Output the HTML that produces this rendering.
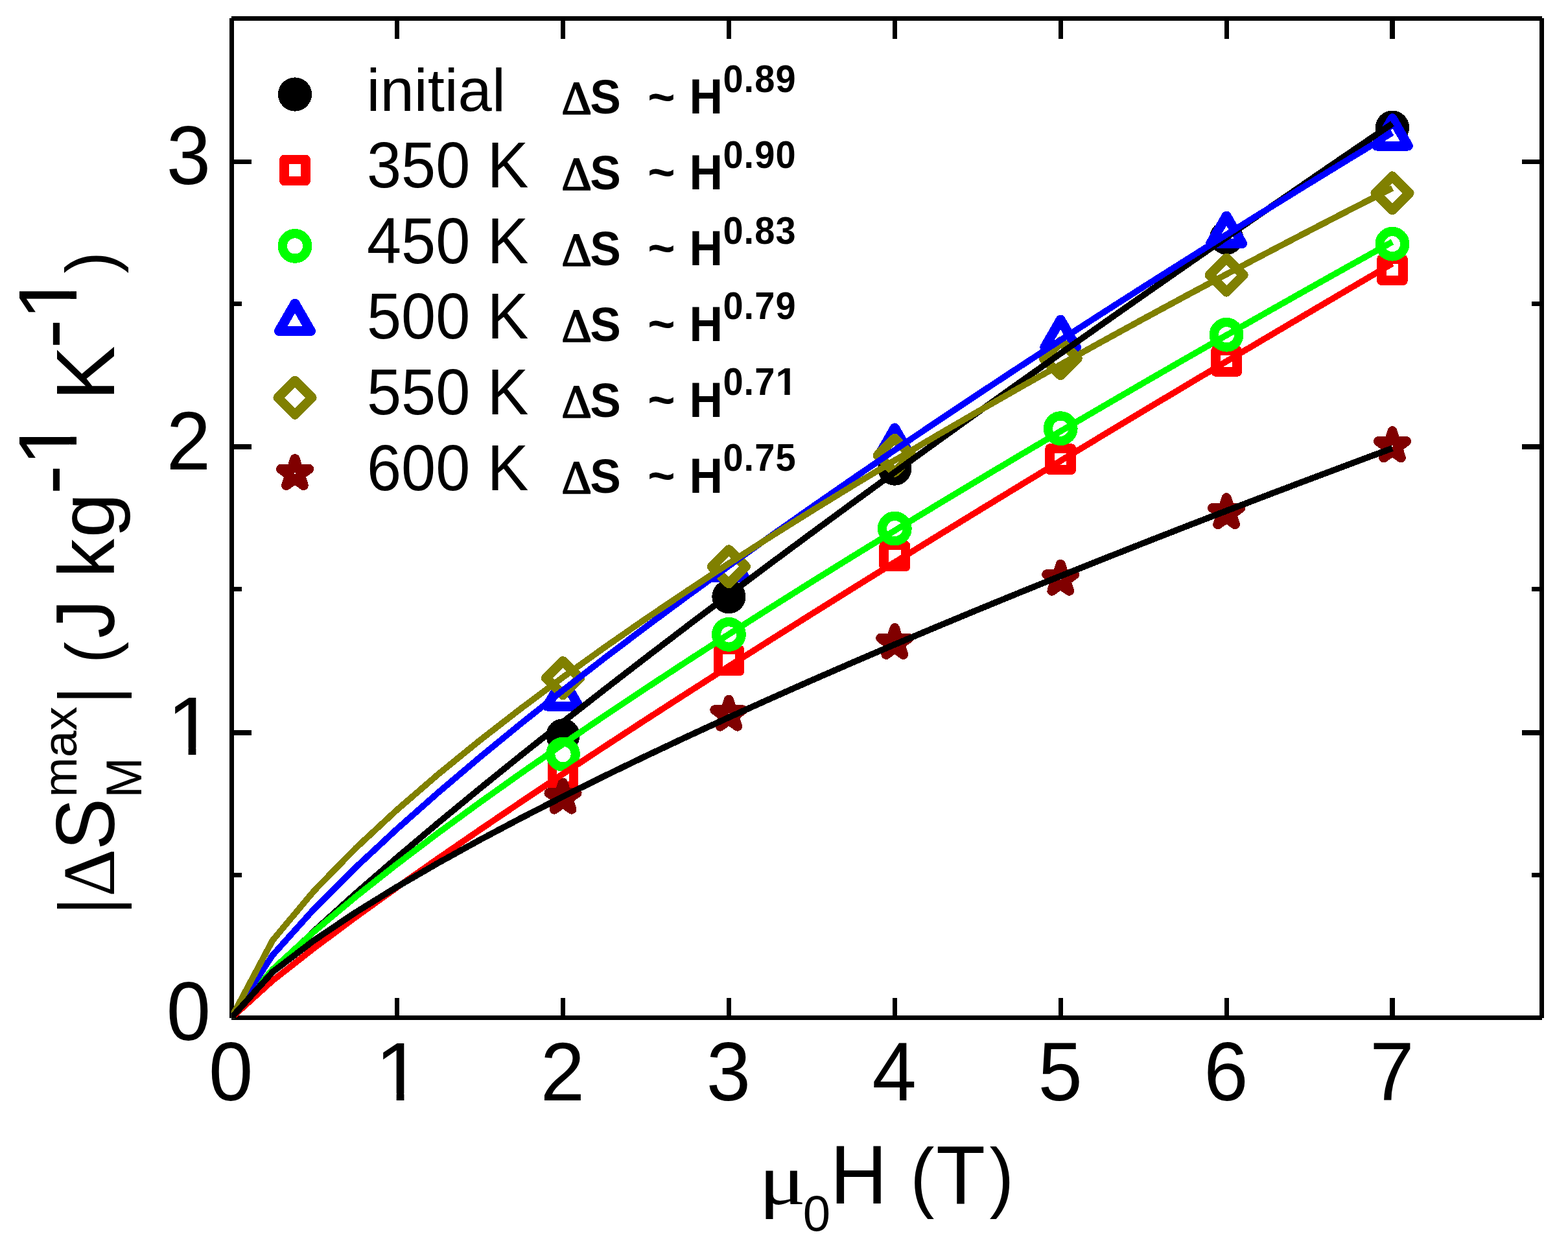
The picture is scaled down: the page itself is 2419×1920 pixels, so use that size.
<!DOCTYPE html>
<html lang="en">
<head>
<meta charset="utf-8">
<title>|&#916;S_M^max| versus &#956;0H</title>
<style>
html,body{margin:0;padding:0;background:#fff;}
body{width:2419px;height:1920px;overflow:hidden;}
svg{display:block;}
text{white-space:pre;font-kerning:none;font-variant-ligatures:none;}
</style>
</head>
<body>
<svg xmlns="http://www.w3.org/2000/svg" width="2419" height="1920" viewBox="0 0 2419 1920">
<rect width="2419" height="1920" fill="#fff"/>
<defs><clipPath id="plotclip"><rect x="356.6" y="28" width="2022.4" height="1542.6"/></clipPath><clipPath id="c1b0"><rect x="-5.6" y="-67.2" width="67.2" height="60.83"/><rect x="13.02" y="-6.81" width="7.78" height="7.11"/></clipPath><clipPath id="c1r1"><rect x="-12.28" y="-147.36" width="147.36" height="136.75"/><rect x="30.83" y="-11.57" width="10.95" height="11.87"/></clipPath><clipPath id="c1r2"><rect x="-12.28" y="-147.36" width="147.36" height="136.75"/><rect x="30.83" y="-11.57" width="10.95" height="11.87"/></clipPath><clipPath id="c1r3"><rect x="-12.28" y="-147.36" width="147.36" height="136.75"/><rect x="30.83" y="-11.57" width="10.95" height="11.87"/></clipPath><clipPath id="c1r4"><rect x="-12.28" y="-147.36" width="147.36" height="136.75"/><rect x="30.83" y="-11.57" width="10.95" height="11.87"/></clipPath></defs>
<g id="axes" fill="#000" shape-rendering="crispEdges">
<rect x="357" y="25" width="2022" height="7"/>
<rect x="357" y="1566" width="2022" height="7"/>
<rect x="354" y="28" width="7" height="1542"/>
<rect x="2375" y="28" width="7" height="1542"/>
<rect x="609" y="1539" width="7" height="28"/>
<rect x="609" y="31" width="7" height="29"/>
<rect x="865" y="1539" width="7" height="28"/>
<rect x="865" y="31" width="7" height="29"/>
<rect x="1121" y="1539" width="7" height="28"/>
<rect x="1121" y="31" width="7" height="29"/>
<rect x="1377" y="1539" width="7" height="28"/>
<rect x="1377" y="31" width="7" height="29"/>
<rect x="1633" y="1539" width="7" height="28"/>
<rect x="1633" y="31" width="7" height="29"/>
<rect x="1889" y="1539" width="7" height="28"/>
<rect x="1889" y="31" width="7" height="29"/>
<rect x="2144" y="1539" width="8" height="28"/>
<rect x="2144" y="31" width="8" height="29"/>
<rect x="360" y="1126" width="28" height="8"/>
<rect x="2348" y="1126" width="28" height="8"/>
<rect x="360" y="685" width="28" height="8"/>
<rect x="2348" y="685" width="28" height="8"/>
<rect x="360" y="246" width="28" height="7"/>
<rect x="2348" y="246" width="28" height="7"/>
<rect x="360" y="1346" width="13" height="7"/>
<rect x="2363" y="1346" width="13" height="7"/>
<rect x="360" y="905" width="13" height="7"/>
<rect x="2363" y="905" width="13" height="7"/>
<rect x="360" y="465" width="13" height="7"/>
<rect x="2363" y="465" width="13" height="7"/>
</g>
<g id="markers" shape-rendering="crispEdges">
<circle cx="868.5" cy="1134.33" r="26.1" fill="#000000"/>
<circle cx="1124.4" cy="920.21" r="26.1" fill="#000000"/>
<circle cx="1380.3" cy="722.61" r="26.1" fill="#000000"/>
<circle cx="1892.1" cy="366.68" r="26.1" fill="#000000"/>
<circle cx="2148" cy="196.6" r="26.1" fill="#000000"/>
<rect x="851.95" y="1179.28" width="33.1" height="33.1" fill="#fff" stroke="#ff0000" stroke-width="14.6" stroke-linejoin="round"/>
<rect x="1107.85" y="1001.85" width="33.1" height="33.1" fill="#fff" stroke="#ff0000" stroke-width="14.6" stroke-linejoin="round"/>
<rect x="1363.75" y="841.05" width="33.1" height="33.1" fill="#fff" stroke="#ff0000" stroke-width="14.6" stroke-linejoin="round"/>
<rect x="1619.65" y="691.57" width="33.1" height="33.1" fill="#fff" stroke="#ff0000" stroke-width="14.6" stroke-linejoin="round"/>
<rect x="1875.55" y="540.42" width="33.1" height="33.1" fill="#fff" stroke="#ff0000" stroke-width="14.6" stroke-linejoin="round"/>
<rect x="2131.45" y="399.53" width="33.1" height="33.1" fill="#fff" stroke="#ff0000" stroke-width="14.6" stroke-linejoin="round"/>
<circle cx="868.5" cy="1163.12" r="19.25" fill="#fff" stroke="#00ff00" stroke-width="14.3"/>
<circle cx="1124.4" cy="978.42" r="19.25" fill="#fff" stroke="#00ff00" stroke-width="14.3"/>
<circle cx="1380.3" cy="815.07" r="19.25" fill="#fff" stroke="#00ff00" stroke-width="14.3"/>
<circle cx="1636.2" cy="660.66" r="19.25" fill="#fff" stroke="#00ff00" stroke-width="14.3"/>
<circle cx="1892.1" cy="516.25" r="19.25" fill="#fff" stroke="#00ff00" stroke-width="14.3"/>
<circle cx="2148" cy="376.19" r="19.25" fill="#fff" stroke="#00ff00" stroke-width="14.3"/>
<polygon points="868.5,1046.73 892.92,1089.03 844.08,1089.03" fill="#fff" stroke="#0000ff" stroke-width="15" stroke-linejoin="round"/>
<polygon points="1124.4,847.98 1148.82,890.28 1099.98,890.28" fill="#fff" stroke="#0000ff" stroke-width="15" stroke-linejoin="round"/>
<polygon points="1380.3,659.98 1404.72,702.28 1355.88,702.28" fill="#fff" stroke="#0000ff" stroke-width="15" stroke-linejoin="round"/>
<polygon points="1636.2,493.15 1660.62,535.45 1611.78,535.45" fill="#fff" stroke="#0000ff" stroke-width="15" stroke-linejoin="round"/>
<polygon points="1892.1,333.06 1916.52,375.36 1867.68,375.36" fill="#fff" stroke="#0000ff" stroke-width="15" stroke-linejoin="round"/>
<polygon points="2148,182.71 2172.42,225.01 2123.58,225.01" fill="#fff" stroke="#0000ff" stroke-width="15" stroke-linejoin="round"/>
<polygon points="868.5,1019.54 894.7,1045.74 868.5,1071.94 842.3,1045.74" fill="#fff" stroke="#808000" stroke-width="14.8" stroke-linejoin="round"/>
<polygon points="1124.4,847.56 1150.6,873.76 1124.4,899.96 1098.2,873.76" fill="#fff" stroke="#808000" stroke-width="14.8" stroke-linejoin="round"/>
<polygon points="1380.3,676.07 1406.5,702.27 1380.3,728.47 1354.1,702.27" fill="#fff" stroke="#808000" stroke-width="14.8" stroke-linejoin="round"/>
<polygon points="1636.2,526.5 1662.4,552.7 1636.2,578.9 1610,552.7" fill="#fff" stroke="#808000" stroke-width="14.8" stroke-linejoin="round"/>
<polygon points="1892.1,397.98 1918.3,424.18 1892.1,450.38 1865.9,424.18" fill="#fff" stroke="#808000" stroke-width="14.8" stroke-linejoin="round"/>
<polygon points="2148,271.62 2174.2,297.82 2148,324.02 2121.8,297.82" fill="#fff" stroke="#808000" stroke-width="14.8" stroke-linejoin="round"/>
<polygon points="868.5,1207.04 873.61,1222.7 890.09,1222.72 876.77,1232.42 881.84,1248.1 868.5,1238.44 855.16,1248.1 860.23,1232.42 846.91,1222.72 863.39,1222.7" fill="#fff" stroke="#800000" stroke-width="15" stroke-linejoin="round"/>
<polygon points="1124.4,1079.09 1129.51,1094.75 1145.99,1094.77 1132.67,1104.48 1137.74,1120.15 1124.4,1110.49 1111.06,1120.15 1116.13,1104.48 1102.81,1094.77 1119.29,1094.75" fill="#fff" stroke="#800000" stroke-width="15" stroke-linejoin="round"/>
<polygon points="1380.3,968.49 1385.41,984.15 1401.89,984.17 1388.57,993.88 1393.64,1009.55 1380.3,999.89 1366.96,1009.55 1372.03,993.88 1358.71,984.17 1375.19,984.15" fill="#fff" stroke="#800000" stroke-width="15" stroke-linejoin="round"/>
<polygon points="1636.2,870.17 1641.31,885.83 1657.79,885.86 1644.47,895.56 1649.54,911.24 1636.2,901.57 1622.86,911.24 1627.93,895.56 1614.61,885.86 1631.09,885.83" fill="#fff" stroke="#800000" stroke-width="15" stroke-linejoin="round"/>
<polygon points="1892.1,767.72 1897.21,783.38 1913.69,783.4 1900.37,793.1 1905.44,808.78 1892.1,799.12 1878.76,808.78 1883.83,793.1 1870.51,783.4 1886.99,783.38" fill="#fff" stroke="#800000" stroke-width="15" stroke-linejoin="round"/>
<polygon points="2148,664.82 2153.11,680.48 2169.59,680.5 2156.27,690.21 2161.34,705.88 2148,696.22 2134.66,705.88 2139.73,690.21 2126.41,680.5 2142.89,680.48" fill="#fff" stroke="#800000" stroke-width="15" stroke-linejoin="round"/>
</g>
<g id="fits" clip-path="url(#plotclip)" fill="none" stroke-width="9.6" stroke-linejoin="miter" stroke-linecap="butt" shape-rendering="crispEdges">
<polyline points="356.7,1570 420.68,1497.16 484.65,1435.7 548.62,1377.91 612.6,1322.39 676.58,1268.49 740.55,1215.85 804.52,1164.23 868.5,1113.48 932.47,1063.47 996.45,1014.1 1060.42,965.32 1124.4,917.05 1188.38,869.25 1252.35,821.89 1316.33,774.92 1380.3,728.31 1444.28,682.05 1508.25,636.11 1572.23,590.46 1636.2,545.1 1700.18,500 1764.15,455.15 1828.12,410.54 1892.1,366.16 1956.08,322 2020.05,278.04 2084.03,234.28 2148,190.71" stroke="#000000"/>
<polyline points="356.7,1570 420.68,1512.17 484.65,1462.02 548.62,1414.41 612.6,1368.39 676.58,1323.5 740.55,1279.51 804.52,1236.23 868.5,1193.57 932.47,1151.44 996.45,1109.76 1060.42,1068.51 1124.4,1027.62 1188.38,987.07 1252.35,946.82 1316.33,906.86 1380.3,867.17 1444.28,827.72 1508.25,788.5 1572.23,749.5 1636.2,710.69 1700.18,672.09 1764.15,633.66 1828.12,595.4 1892.1,557.32 1956.08,519.38 2020.05,481.6 2084.03,443.96 2148,406.46" stroke="#ff0000"/>
<polyline points="356.7,1570 420.68,1494.97 484.65,1436.52 548.62,1383.02 612.6,1332.51 676.58,1284.11 740.55,1237.33 804.52,1191.86 868.5,1147.47 932.47,1104.01 996.45,1061.36 1060.42,1019.43 1124.4,978.13 1188.38,937.41 1252.35,897.22 1316.33,857.51 1380.3,818.25 1444.28,779.4 1508.25,740.93 1572.23,702.82 1636.2,665.05 1700.18,627.59 1764.15,590.44 1828.12,553.57 1892.1,516.97 1956.08,480.63 2020.05,444.53 2084.03,408.66 2148,373.02" stroke="#00ff00"/>
<polyline points="356.7,1570 420.68,1472.84 484.65,1401.65 548.62,1337.79 612.6,1278.28 676.58,1221.8 740.55,1167.63 804.52,1115.3 868.5,1064.51 932.47,1015.01 996.45,966.64 1060.42,919.27 1124.4,872.78 1188.38,827.08 1252.35,782.11 1316.33,737.79 1380.3,694.09 1444.28,650.94 1508.25,608.32 1572.23,566.19 1636.2,524.51 1700.18,483.26 1764.15,442.42 1828.12,401.95 1892.1,361.86 1956.08,322.1 2020.05,282.67 2084.03,243.56 2148,204.74" stroke="#0000ff"/>
<polyline points="356.7,1570 420.68,1450.02 484.65,1373.69 548.62,1308.16 612.6,1248.79 676.58,1193.61 740.55,1141.56 804.52,1091.98 868.5,1044.41 932.47,998.54 996.45,954.13 1060.42,910.98 1124.4,868.96 1188.38,827.94 1252.35,787.83 1316.33,748.54 1380.3,710 1444.28,672.15 1508.25,634.95 1572.23,598.33 1636.2,562.27 1700.18,526.73 1764.15,491.68 1828.12,457.08 1892.1,422.92 1956.08,389.17 2020.05,355.81 2084.03,322.81 2148,290.17" stroke="#808000"/>
<polyline points="356.7,1570 420.68,1498.88 484.65,1450.02 548.62,1407.09 612.6,1367.6 676.58,1330.48 740.55,1295.16 804.52,1261.26 868.5,1228.54 932.47,1196.8 996.45,1165.92 1060.42,1135.79 1124.4,1106.33 1188.38,1077.47 1252.35,1049.14 1316.33,1021.31 1380.3,993.93 1444.28,966.97 1508.25,940.4 1572.23,914.18 1636.2,888.3 1700.18,862.74 1764.15,837.47 1828.12,812.49 1892.1,787.77 1956.08,763.3 2020.05,739.07 2084.03,715.07 2148,691.29" stroke="#000000"/>
</g>
<g id="legend-markers" shape-rendering="crispEdges">
<circle cx="455" cy="145.5" r="26.1" fill="#000000"/>
<rect x="438.45" y="245.9" width="33.1" height="33.1" fill="#fff" stroke="#ff0000" stroke-width="14.6" stroke-linejoin="round"/>
<circle cx="455" cy="379.4" r="19.25" fill="#fff" stroke="#00ff00" stroke-width="14.3"/>
<polygon points="455,468.15 479.42,510.45 430.58,510.45" fill="#fff" stroke="#0000ff" stroke-width="15" stroke-linejoin="round"/>
<polygon points="455,587.1 481.2,613.3 455,639.5 428.8,613.3" fill="#fff" stroke="#808000" stroke-width="14.8" stroke-linejoin="round"/>
<polygon points="455,707.55 460.11,723.21 476.59,723.24 463.27,732.94 468.34,748.61 455,738.95 441.66,748.61 446.73,732.94 433.41,723.24 449.89,723.21" fill="#fff" stroke="#800000" stroke-width="15" stroke-linejoin="round"/>
</g>
<g id="legend-text" fill="#000" font-family='"Liberation Sans", Arial, Helvetica, sans-serif'>
<text transform="translate(565.6 171) scale(1 0.995)" font-size="94">initial</text>
<text transform="translate(866.46 175.1) scale(1.0273 1.0214)" font-size="70" font-family='"Liberation Serif", "DejaVu Serif", serif' stroke="#000" stroke-width="2" stroke-linejoin="miter">Δ</text>
<text transform="translate(910.3 174.9) scale(0.985 1.035)" font-size="72.4" font-weight="bold">S</text>
<text transform="translate(999.2 173.5)" font-size="72.4" font-weight="bold">~</text>
<text transform="translate(1063.6 174.9) scale(0.985 1.04)" font-size="72.4" font-weight="bold">H</text>
<text transform="translate(1115.4 141.6) scale(1 1.07)" font-size="56" font-weight="bold">0</text>
<text transform="translate(1147.59 141.6) scale(1 1.07)" font-size="56" font-weight="bold">.</text>
<text transform="translate(1164.2 141.6) scale(1 1.07)" font-size="56" font-weight="bold">8</text>
<text transform="translate(1196.4 141.6) scale(1 1.07)" font-size="56" font-weight="bold">9</text>
<text transform="translate(565.9 288.55) scale(0.99 1.04)" font-size="96.5">350 K</text>
<text transform="translate(866.46 292.05) scale(1.0273 1.0214)" font-size="70" font-family='"Liberation Serif", "DejaVu Serif", serif' stroke="#000" stroke-width="2" stroke-linejoin="miter">Δ</text>
<text transform="translate(910.3 291.85) scale(0.985 1.035)" font-size="72.4" font-weight="bold">S</text>
<text transform="translate(999.2 290.45)" font-size="72.4" font-weight="bold">~</text>
<text transform="translate(1063.6 291.85) scale(0.985 1.04)" font-size="72.4" font-weight="bold">H</text>
<text transform="translate(1115.4 258.55) scale(1 1.07)" font-size="56" font-weight="bold">0</text>
<text transform="translate(1147.59 258.55) scale(1 1.07)" font-size="56" font-weight="bold">.</text>
<text transform="translate(1164.2 258.55) scale(1 1.07)" font-size="56" font-weight="bold">9</text>
<text transform="translate(1196.4 258.55) scale(1 1.07)" font-size="56" font-weight="bold">0</text>
<text transform="translate(565.9 405.5) scale(0.99 1.04)" font-size="96.5">450 K</text>
<text transform="translate(866.46 409) scale(1.0273 1.0214)" font-size="70" font-family='"Liberation Serif", "DejaVu Serif", serif' stroke="#000" stroke-width="2" stroke-linejoin="miter">Δ</text>
<text transform="translate(910.3 408.8) scale(0.985 1.035)" font-size="72.4" font-weight="bold">S</text>
<text transform="translate(999.2 407.4)" font-size="72.4" font-weight="bold">~</text>
<text transform="translate(1063.6 408.8) scale(0.985 1.04)" font-size="72.4" font-weight="bold">H</text>
<text transform="translate(1115.4 375.5) scale(1 1.07)" font-size="56" font-weight="bold">0</text>
<text transform="translate(1147.59 375.5) scale(1 1.07)" font-size="56" font-weight="bold">.</text>
<text transform="translate(1164.2 375.5) scale(1 1.07)" font-size="56" font-weight="bold">8</text>
<text transform="translate(1196.4 375.5) scale(1 1.07)" font-size="56" font-weight="bold">3</text>
<text transform="translate(565.9 522.45) scale(0.99 1.04)" font-size="96.5">500 K</text>
<text transform="translate(866.46 525.95) scale(1.0273 1.0214)" font-size="70" font-family='"Liberation Serif", "DejaVu Serif", serif' stroke="#000" stroke-width="2" stroke-linejoin="miter">Δ</text>
<text transform="translate(910.3 525.75) scale(0.985 1.035)" font-size="72.4" font-weight="bold">S</text>
<text transform="translate(999.2 524.35)" font-size="72.4" font-weight="bold">~</text>
<text transform="translate(1063.6 525.75) scale(0.985 1.04)" font-size="72.4" font-weight="bold">H</text>
<text transform="translate(1115.4 492.45) scale(1 1.07)" font-size="56" font-weight="bold">0</text>
<text transform="translate(1147.59 492.45) scale(1 1.07)" font-size="56" font-weight="bold">.</text>
<text transform="translate(1164.2 492.45) scale(1 1.07)" font-size="56" font-weight="bold">7</text>
<text transform="translate(1196.4 492.45) scale(1 1.07)" font-size="56" font-weight="bold">9</text>
<text transform="translate(565.9 639.4) scale(0.99 1.04)" font-size="96.5">550 K</text>
<text transform="translate(866.46 642.9) scale(1.0273 1.0214)" font-size="70" font-family='"Liberation Serif", "DejaVu Serif", serif' stroke="#000" stroke-width="2" stroke-linejoin="miter">Δ</text>
<text transform="translate(910.3 642.7) scale(0.985 1.035)" font-size="72.4" font-weight="bold">S</text>
<text transform="translate(999.2 641.3)" font-size="72.4" font-weight="bold">~</text>
<text transform="translate(1063.6 642.7) scale(0.985 1.04)" font-size="72.4" font-weight="bold">H</text>
<text transform="translate(1115.4 609.4) scale(1 1.07)" font-size="56" font-weight="bold">0</text>
<text transform="translate(1147.59 609.4) scale(1 1.07)" font-size="56" font-weight="bold">.</text>
<text transform="translate(1164.2 609.4) scale(1 1.07)" font-size="56" font-weight="bold">7</text>
<text transform="translate(1196.42 609.4) scale(1.0662 1.07)" font-size="56" font-weight="bold" clip-path="url(#c1b0)">1</text>
<text transform="translate(565.9 756.35) scale(0.99 1.04)" font-size="96.5">600 K</text>
<text transform="translate(866.46 759.85) scale(1.0273 1.0214)" font-size="70" font-family='"Liberation Serif", "DejaVu Serif", serif' stroke="#000" stroke-width="2" stroke-linejoin="miter">Δ</text>
<text transform="translate(910.3 759.65) scale(0.985 1.035)" font-size="72.4" font-weight="bold">S</text>
<text transform="translate(999.2 758.25)" font-size="72.4" font-weight="bold">~</text>
<text transform="translate(1063.6 759.65) scale(0.985 1.04)" font-size="72.4" font-weight="bold">H</text>
<text transform="translate(1115.4 726.35) scale(1 1.07)" font-size="56" font-weight="bold">0</text>
<text transform="translate(1147.59 726.35) scale(1 1.07)" font-size="56" font-weight="bold">.</text>
<text transform="translate(1164.2 726.35) scale(1 1.07)" font-size="56" font-weight="bold">7</text>
<text transform="translate(1196.4 726.35) scale(1 1.07)" font-size="56" font-weight="bold">5</text>
</g>
<g id="ticklabels" fill="#000" font-family='"Liberation Sans", Arial, Helvetica, sans-serif'>
<text transform="translate(321.95 1697.1) scale(1 1.04)" font-size="122.8">0</text>
<text transform="translate(578.54 1697.1) scale(1.0741 1.04)" font-size="122.8" clip-path="url(#c1r1)">1</text>
<text transform="translate(833.75 1697.1) scale(1 1.04)" font-size="122.8">2</text>
<text transform="translate(1089.65 1697.1) scale(1 1.04)" font-size="122.8">3</text>
<text transform="translate(1345.55 1697.1) scale(1 1.04)" font-size="122.8">4</text>
<text transform="translate(1601.45 1697.1) scale(1 1.04)" font-size="122.8">5</text>
<text transform="translate(1857.35 1697.1) scale(1 1.04)" font-size="122.8">6</text>
<text transform="translate(2113.25 1697.1) scale(1 1.04)" font-size="122.8">7</text>
<text transform="translate(256.8 1604.4) scale(1 1.04)" font-size="122.8">0</text>
<text transform="translate(257.49 1164.2) scale(1.0741 1.04)" font-size="122.8" clip-path="url(#c1r2)">1</text>
<text transform="translate(256.8 724) scale(1 1.04)" font-size="122.8">2</text>
<text transform="translate(256.8 283.8) scale(1 1.04)" font-size="122.8">3</text>
</g>
<g id="xtitle" fill="#000" font-family='"Liberation Sans", Arial, Helvetica, sans-serif'>
<text transform="translate(1170.6 1856.66) scale(1.1053 0.9041)" font-size="122.8" font-family='"Liberation Serif", "DejaVu Serif", serif'>μ</text>
<text transform="translate(1238.83 1898.05) scale(1.0207 1.0356)" font-size="74.6">0</text>
<text transform="translate(1280.81 1855.9) scale(0.9913 1.0404)" font-size="122.8">H</text>
<text transform="translate(1404.28 1854.96) scale(0.9091 0.9772)" font-size="122.8">(</text>
<text transform="translate(1444.1 1855.9) scale(1.0139 1.0404)" font-size="122.8">T</text>
<text transform="translate(1526.44 1854.96) scale(0.9214 0.9772)" font-size="122.8">)</text>
</g>
<g id="ytitle" fill="#000" font-family='"Liberation Sans", Arial, Helvetica, sans-serif'>
<text transform="translate(176.98 1409.7) rotate(-90) scale(0.7836 1)" font-size="122.8">|</text>
<text transform="translate(175.7 1382.98) rotate(-90) scale(1.0447 1.0425)" font-size="110" font-family='"Liberation Serif", "DejaVu Serif", serif'>Δ</text>
<text transform="translate(175.86 1311.04) rotate(-90) scale(0.976 1.0375)" font-size="122.8">S</text>
<text transform="translate(218.1 1230.78) rotate(-90) scale(1.01 1.0521)" font-size="74.6">M</text>
<text transform="translate(118.47 1229.51) rotate(-90) scale(0.992 0.9958)" font-size="74.6">max</text>
<text transform="translate(176.98 1086.08) rotate(-90) scale(0.864 1)" font-size="122.8">|</text>
<text transform="translate(175.57 1022.75) rotate(-90) scale(0.9447 0.9998)" font-size="105">(</text>
<text transform="translate(176.14 984.16) rotate(-90) scale(0.9689 1.0469)" font-size="122.8">J</text>
<text transform="translate(176 891.09) rotate(-90) scale(0.9774 0.9923)" font-size="122.8">k</text>
<text transform="translate(175.8 829.3) rotate(-90) scale(1.0086 0.9849)" font-size="122.8">g</text>
<text transform="translate(121.39 762.99) rotate(-90) scale(1.1341 1.0528)" font-size="122.8">-</text>
<text transform="translate(118.2 718.69) rotate(-90) scale(1.0741 1.0499)" font-size="122.8" clip-path="url(#c1r3)">1</text>
<text transform="translate(176 617.47) rotate(-90) scale(1.029 1.0452)" font-size="122.8">K</text>
<text transform="translate(121.39 537.99) rotate(-90) scale(1.1341 1.0528)" font-size="122.8">-</text>
<text transform="translate(118.2 494.09) rotate(-90) scale(1.0741 1.0499)" font-size="122.8" clip-path="url(#c1r4)">1</text>
<text transform="translate(175.57 421.58) rotate(-90) scale(0.9447 0.9998)" font-size="105">)</text>
</g>
</svg>
</body>
</html>
